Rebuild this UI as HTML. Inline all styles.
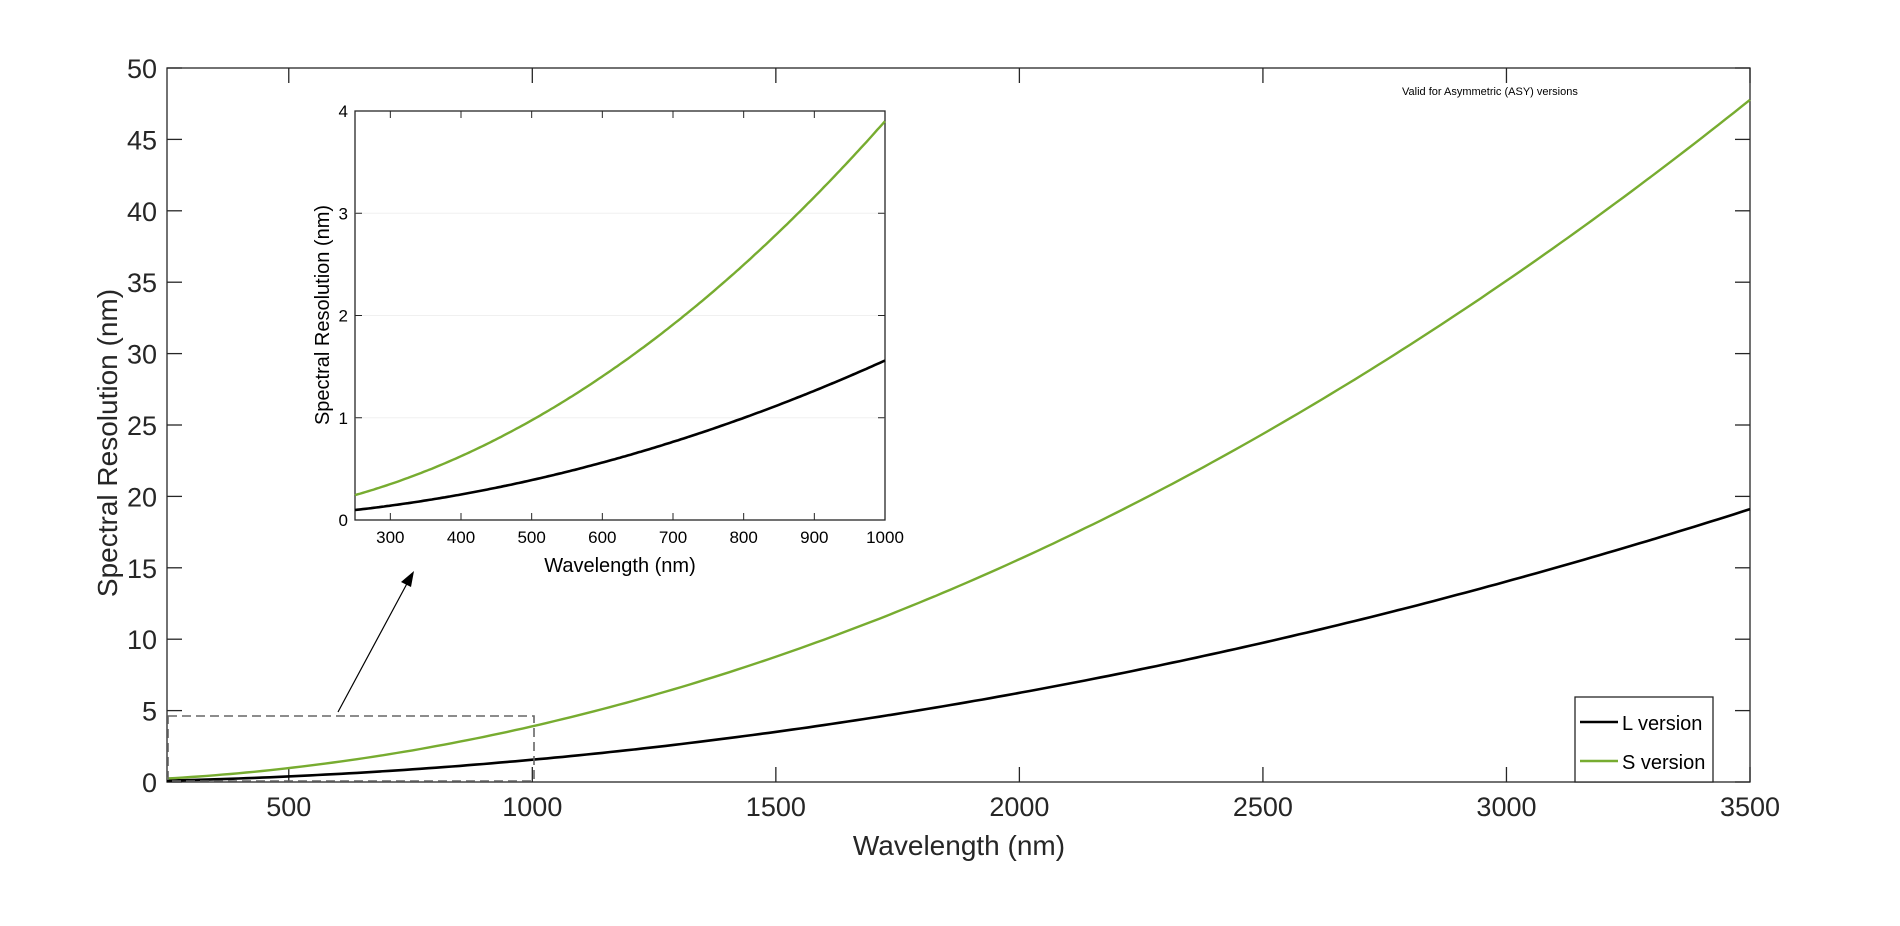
<!DOCTYPE html>
<html><head><meta charset="utf-8"><style>
html,body{margin:0;padding:0;background:#fff;}
svg{display:block;font-family:"Liberation Sans",Arial,sans-serif;}
</style></head><body>
<svg id="s" width="1900" height="926" viewBox="0 0 1900 926" xmlns="http://www.w3.org/2000/svg"></svg>
<script>
var s=document.getElementById('s'),h='';
// main axes
var L=167,R=1750,T=68,B=782;
function mx(v){return L+(v-250)/3250*(R-L);}
function my(v){return B-v/50*(B-T);}
// insets
var iL=355,iR=885,iT=111,iB=520;
function ix(v){return iL+(v-250)/750*(iR-iL);}
function iy(v){return iB-v/4*(iB-iT);}
h+='<rect x="'+L+'" y="'+T+'" width="'+(R-L)+'" height="'+(B-T)+'" fill="#fff" stroke="#262626" stroke-width="1.3"/>';
for(var v=500;v<=3500;v+=500){var x=mx(v);
 h+='<line x1="'+x+'" y1="'+B+'" x2="'+x+'" y2="'+(B-15)+'" stroke="#262626" stroke-width="1.3"/>';
 h+='<line x1="'+x+'" y1="'+T+'" x2="'+x+'" y2="'+(T+15)+'" stroke="#262626" stroke-width="1.3"/>';
 h+='<text x="'+x+'" y="'+(B+34)+'" font-size="27" fill="#262626" text-anchor="middle">'+v+'</text>';}
for(var v=0;v<=50;v+=5){var y=my(v);
 h+='<line x1="'+L+'" y1="'+y+'" x2="'+(L+15)+'" y2="'+y+'" stroke="#262626" stroke-width="1.3"/>';
 h+='<line x1="'+R+'" y1="'+y+'" x2="'+(R-15)+'" y2="'+y+'" stroke="#262626" stroke-width="1.3"/>';
 h+='<text x="'+(L-10)+'" y="'+(y+10)+'" font-size="27" fill="#262626" text-anchor="end">'+v+'</text>';}
h+='<text x="959" y="855" font-size="28" fill="#262626" text-anchor="middle">Wavelength (nm)</text>';
h+='<text transform="translate(117,443) rotate(-90)" font-size="28" fill="#262626" text-anchor="middle">Spectral Resolution (nm)</text>';
function path(f,a,b,X,Y){var d='';for(var i=0;i<=200;i++){var w=a+(b-a)*i/200;d+=(i?'L':'M')+X(w).toFixed(1)+' '+Y(f(w)).toFixed(1);}return d;}
var fS=function(w){return 3.9*Math.pow(w/1000,2);},fL=function(w){return 1.56*Math.pow(w/1000,2);};
h+='<path d="'+path(fL,250,3500,mx,my)+'" fill="none" stroke="#000" stroke-width="2.6"/>';
h+='<path d="'+path(fS,250,3500,mx,my)+'" fill="none" stroke="#77ac30" stroke-width="2.4"/>';
// dashed rect
h+='<rect x="'+(L+1)+'" y="716" width="'+(534-L-1)+'" height="'+(B-716-1)+'" fill="none" stroke="#666" stroke-width="1.6" stroke-dasharray="9,5"/>';
// arrow
h+='<line x1="338" y1="712" x2="410" y2="578" stroke="#000" stroke-width="1.2"/>';
h+='<polygon points="414,571 401,582 411,587" fill="#000"/>';
h+='<text x="1402" y="95" font-size="11" fill="#000">Valid for Asymmetric (ASY) versions</text>';
// legend
h+='<rect x="1575" y="697" width="138" height="85" fill="#fff" stroke="#262626" stroke-width="1.3"/>';
h+='<line x1="1580" y1="722" x2="1618" y2="722" stroke="#000" stroke-width="2.4"/>';
h+='<line x1="1580" y1="761" x2="1618" y2="761" stroke="#77ac30" stroke-width="2.4"/>';
h+='<text x="1622" y="730" font-size="20" fill="#000">L version</text>';
h+='<text x="1622" y="769" font-size="20" fill="#000">S version</text>';
// inset
h+='<rect x="'+iL+'" y="'+iT+'" width="'+(iR-iL)+'" height="'+(iB-iT)+'" fill="#fff" stroke="#262626" stroke-width="1.3"/>';
for(var v=1;v<=3;v++){h+='<line x1="'+iL+'" y1="'+iy(v)+'" x2="'+iR+'" y2="'+iy(v)+'" stroke="#f0f0f0" stroke-width="1"/>';}
for(var v=300;v<=1000;v+=100){var x=ix(v);
 h+='<line x1="'+x+'" y1="'+iB+'" x2="'+x+'" y2="'+(iB-7)+'" stroke="#262626"/>';
 h+='<line x1="'+x+'" y1="'+iT+'" x2="'+x+'" y2="'+(iT+7)+'" stroke="#262626"/>';
 h+='<text x="'+x+'" y="'+(iB+23)+'" font-size="17" fill="#000" text-anchor="middle">'+v+'</text>';}
for(var v=0;v<=4;v++){var y=iy(v);
 h+='<line x1="'+iL+'" y1="'+y+'" x2="'+(iL+7)+'" y2="'+y+'" stroke="#262626"/>';
 h+='<line x1="'+iR+'" y1="'+y+'" x2="'+(iR-7)+'" y2="'+y+'" stroke="#262626"/>';
 h+='<text x="'+(iL-7)+'" y="'+(y+6)+'" font-size="17" fill="#000" text-anchor="end">'+v+'</text>';}
h+='<text x="620" y="572" font-size="20" fill="#000" text-anchor="middle">Wavelength (nm)</text>';
h+='<text transform="translate(329,315) rotate(-90)" font-size="20" fill="#000" text-anchor="middle">Spectral Resolution (nm)</text>';
h+='<path d="'+path(fL,250,1000,ix,iy)+'" fill="none" stroke="#000" stroke-width="2.6"/>';
h+='<path d="'+path(fS,250,1000,ix,iy)+'" fill="none" stroke="#77ac30" stroke-width="2.4"/>';
s.innerHTML=h;
</script>
</body></html>
